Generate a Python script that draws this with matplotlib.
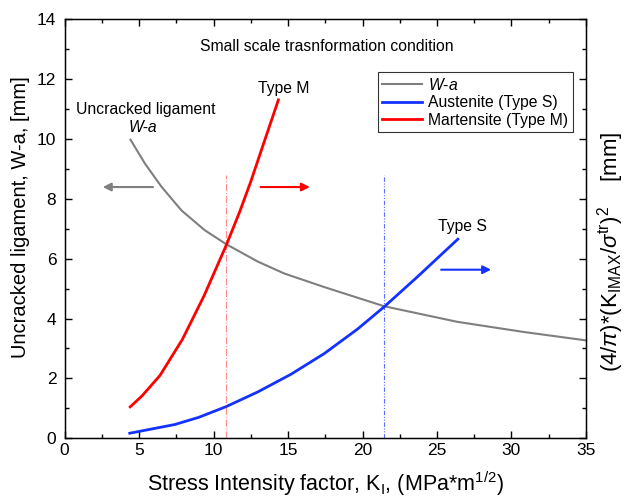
import matplotlib
matplotlib.use("Agg")
import matplotlib.pyplot as plt

plt.rcParams["font.family"] = ["Liberation Sans", "DejaVu Sans"]
plt.rcParams["mathtext.fontset"] = "custom"
plt.rcParams["mathtext.rm"] = "Liberation Sans"
plt.rcParams["mathtext.it"] = "Liberation Sans:italic"

# ============================================================
# Data
# ============================================================

k_wa = [4.42, 5.38, 6.5, 7.84, 9.4, 10.85, 12.97, 14.76, 17.43, 21.45,
        26.36, 30.83, 35.0]
wa = [9.97, 9.18, 8.4, 7.61, 6.95, 6.48, 5.9, 5.5, 5.05, 4.41,
      3.89, 3.55, 3.27]

k_type_s = [4.37, 7.39, 9.0, 10.85, 12.97, 15.2, 17.43, 19.67, 21.45,
            23.68, 26.4]
type_s = [0.17, 0.46, 0.7, 1.06, 1.55, 2.14, 2.83, 3.65, 4.39,
          5.39, 6.65]

k_type_m = [4.4, 5.2, 6.4, 7.9, 9.35, 10.85, 11.74, 12.48, 13.26, 14.35]
type_m = [1.05, 1.42, 2.1, 3.3, 4.75, 6.45, 7.55, 8.55, 9.7, 11.3]

k_cross_m = 10.85
k_cross_s = 21.47
cross_top = 8.78

x_ticks = [0, 5, 10, 15, 20, 25, 30, 35]
y_ticks = [0, 2, 4, 6, 8, 10, 12, 14]

GRAY = "#7f7f7f"
RED = "#ff0000"
BLUE = "#1432ff"

# ============================================================
# Plot
# ============================================================

fig = plt.figure(figsize=(6.25, 5.03), dpi=100)
ax = fig.add_axes([0.1035, 0.1286, 0.834, 0.8336])

ax.plot(k_wa, wa, color=GRAY, lw=1.5, label=r"$\it{W}$-$\it{a}$")
ax.plot(k_type_s, type_s, color=BLUE, lw=2.0, label="Austenite (Type S)")
ax.plot(k_type_m, type_m, color=RED, lw=2.0, label="Martensite (Type M)")

ax.plot([k_cross_m, k_cross_m], [0, cross_top], color=RED, lw=0.8,
        ls="-.", alpha=0.45)
ax.plot([k_cross_s, k_cross_s], [0, cross_top], color=BLUE, lw=0.8,
        ls=(0, (4, 1.5, 1, 1.5, 1, 1.5)), alpha=0.7)

# arrows
arrow = dict(arrowstyle="-|>", lw=1.5, mutation_scale=12)
ax.annotate("", xy=(2.37, 8.39), xytext=(6.12, 8.39),
            arrowprops=dict(arrow, color=GRAY))
ax.annotate("", xy=(16.65, 8.39), xytext=(12.97, 8.39),
            arrowprops=dict(arrow, color=RED))
ax.annotate("", xy=(28.82, 5.63), xytext=(25.09, 5.63),
            arrowprops=dict(arrow, color=BLUE))

# labels on the plot
ax.text(17.57, 13.08, "Small scale trasnformation condition",
        ha="center", va="center", fontsize=11.3)
ax.text(5.41, 10.97, "Uncracked ligament", ha="center", va="center",
        fontsize=11.3)
ax.text(5.24, 10.37, "W-a", ha="center", va="center", fontsize=11.3,
        style="italic")
ax.text(14.72, 11.67, "Type M", ha="center", va="center", fontsize=11.3)
ax.text(26.73, 7.08, "Type S", ha="center", va="center", fontsize=11.3)

ax.set_xlim(0, 35)
ax.set_ylim(0, 14)
ax.set_xticks(x_ticks)
ax.set_yticks(y_ticks)
ax.set_xticks([v + 2.5 for v in x_ticks[:-1]], minor=True)
ax.set_yticks([v + 1 for v in y_ticks[:-1]], minor=True)

ax.set_xlabel(r"Stress Intensity factor, K$_\mathrm{I}$, (MPa*m$^{1/2}$)",
              fontsize=15.5, labelpad=8)
ax.set_ylabel("Uncracked ligament, W-a, [mm]", fontsize=14.5)
ax.yaxis.set_label_coords(-0.066, 0.527)

# right axis: same scale, ticks only, plus its own label
ax2 = ax.twinx()
ax2.set_ylim(0, 14)
ax2.set_yticks(y_ticks)
ax2.set_yticks([v + 1 for v in y_ticks[:-1]], minor=True)
ax2.tick_params(which="both", direction="in", labelright=False, width=1)
ax2.tick_params(which="major", length=5)
ax2.tick_params(which="minor", length=3)
ax2.set_ylabel(r"(4/$\pi$)*(K$_\mathrm{IMAX}$/$\sigma^\mathrm{tr}$)$^2$    [mm]",
               fontsize=16)
ax2.yaxis.set_label_coords(1.018, 0.444)

ax.tick_params(which="both", direction="in", top=True,
               labelsize=12.5, width=1)
ax.tick_params(axis="y", pad=6)
ax.tick_params(which="major", length=5)
ax.tick_params(which="minor", length=3)
for s in ax.spines.values():
    s.set_linewidth(1.0)

leg = ax.legend(loc="upper right", bbox_to_anchor=(0.9745, 0.873),
                fontsize=11.3, frameon=True, fancybox=False,
                edgecolor="black", handlelength=2.5, borderpad=0.3,
                labelspacing=0.15, handletextpad=0.4, borderaxespad=0)
leg.get_frame().set_linewidth(0.8)

fig.savefig("out.png", dpi=100)
